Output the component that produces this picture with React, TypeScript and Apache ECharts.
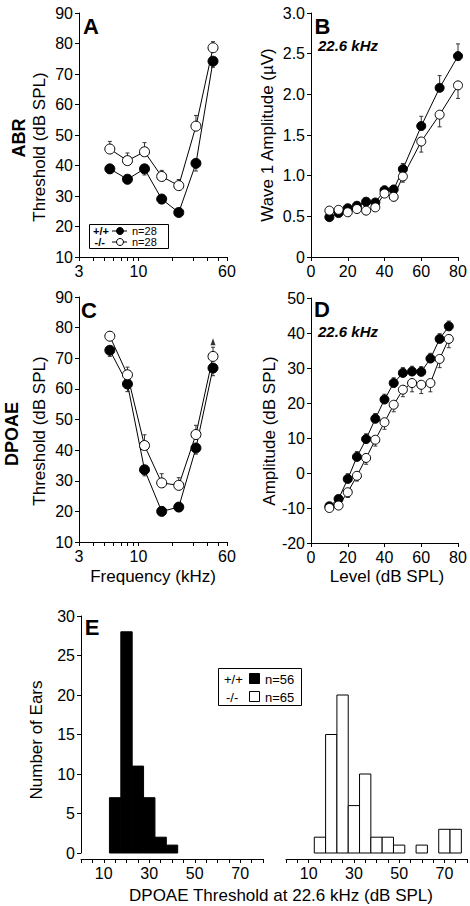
import React, { useEffect, useRef } from "react";
import * as echarts from "echarts";

// ---------- data ----------
const freqsKHz = [5.6, 8, 11.3, 16, 22.6, 32, 45.2];
const logTickValues = [3, 4, 5, 6, 7, 8, 9, 10, 20, 30, 40, 50, 60];
const logTickLabels = [3, 10, 60];

// A: ABR thresholds (dB SPL)
const abrWT = [38.9, 35.5, 38.9, 29.0, 24.6, 40.7, 74.2];
const abrWTErr = [1.5, 1.5, 2.0, 1.5, 1.0, 2.5, 2.0];
const abrKO = [45.4, 41.6, 44.5, 36.4, 33.4, 52.9, 78.6];
const abrKOErr = [2.5, 2.5, 3.0, 2.0, 2.0, 3.5, 2.0];

// B: wave 1 amplitude (uV) vs level at 22.6 kHz
const levelsB = [10, 15, 20, 25, 30, 35, 40, 45, 50, 60, 70, 80];
const waveWT = [0.49, 0.54, 0.6, 0.63, 0.68, 0.67, 0.82, 0.83, 1.08, 1.61, 2.08, 2.47];
const waveWTErr = [0.02, 0.02, 0.02, 0.03, 0.03, 0.03, 0.05, 0.05, 0.07, 0.12, 0.15, 0.15];
const waveKO = [0.57, 0.58, 0.55, 0.59, 0.57, 0.61, 0.78, 0.74, 0.99, 1.42, 1.75, 2.11];
const waveKOErr = [0.02, 0.02, 0.02, 0.03, 0.03, 0.03, 0.04, 0.05, 0.07, 0.13, 0.15, 0.16];

// C: DPOAE thresholds (dB SPL)
const dpWT = [72.6, 61.6, 33.6, 20.0, 21.4, 40.7, 66.8];
const dpWTErr = [2.0, 2.5, 2.0, 1.0, 1.0, 2.0, 2.5];
const dpKO = [77.2, 64.6, 41.5, 29.3, 28.5, 45.1, 70.6];
const dpKOErr = [1.5, 2.5, 3.5, 3.0, 2.5, 3.0, 3.0];
const arrowC = [[45.2, 75.4]];

// D: DPOAE amplitude vs level at 22.6 kHz
const levelsD = [10, 15, 20, 25, 30, 35, 40, 45, 50, 55, 60, 65, 70, 75];
const ampWT = [-9.5, -7.4, -1.7, 4.6, 9.7, 15.5, 21.0, 25.7, 28.6, 29.0, 28.9, 32.7, 38.3, 41.9];
const ampWTErr = [1.0, 1.0, 1.5, 1.5, 1.5, 1.5, 1.5, 1.5, 1.5, 1.5, 1.5, 1.5, 1.5, 1.5];
const ampKO = [-10.0, -9.3, -5.5, -0.8, 4.3, 9.5, 14.5, 19.5, 23.8, 25.7, 25.2, 25.7, 32.6, 38.3];
const ampKOErr = [1.0, 1.0, 1.5, 1.5, 1.8, 1.8, 2.0, 2.0, 2.0, 2.5, 2.5, 2.5, 2.5, 2.5];

// E: histogram of DPOAE thresholds at 22.6 kHz
const binCenters = [15, 20, 25, 30, 35, 40, 45, 50, 55, 60, 65, 70, 75];
const binWidth = 5;
const histWT = [7, 28, 11, 7, 2, 1, 0, 0, 0, 0, 0, 0, 0];
const histKO = [2, 15, 20, 6, 10, 2, 2, 1, 0, 1, 0, 3, 3];
const histTickLabels = [10, 30, 50, 70];

const legendA = { wt: "+/+", ko: "-/-", nWT: "n=28", nKO: "n=28" };
const legendE = { wt: "+/+", ko: "-/-", nWT: "n=56", nKO: "n=65" };

// ---------- styling helpers ----------
const FONT = "'Liberation Sans', Arial, Helvetica, sans-serif";
const TICK_FS = 16;
const NAME_FS = 17;

function axis(extra: any) {
  const { axisLine, axisTick, axisLabel, ...rest } = extra;
  return {
    type: "value",
    splitLine: { show: false },
    axisLine: { show: true, onZero: false, lineStyle: { color: "#000", width: 1 }, ...(axisLine || {}) },
    axisTick: { show: true, length: 4, lineStyle: { color: "#000", width: 1 }, ...(axisTick || {}) },
    axisLabel: { color: "#000", fontSize: TICK_FS, fontFamily: FONT, margin: 6, ...(axisLabel || {}) },
    ...rest,
  };
}

function logX(gridIndex: number) {
  return axis({
    gridIndex,
    min: Math.log10(3),
    max: Math.log10(60),
    axisTick: { customValues: logTickValues.map((v) => Math.log10(v)) },
    axisLabel: {
      customValues: logTickLabels.map((v) => Math.log10(v)),
      formatter: (v: number) => String(Math.round(Math.pow(10, v))),
    },
  });
}

function errRender(dir: number) {
  return (_p: any, api: any) => {
    const x = api.value(0);
    const y = api.value(1);
    const e = api.value(2);
    const p0 = api.coord([x, y]);
    const p1 = api.coord([x, y + dir * e]);
    const st = { stroke: "#333", lineWidth: 1 };
    return {
      type: "group",
      children: [
        { type: "line", shape: { x1: p0[0], y1: p0[1], x2: p1[0], y2: p1[1] }, style: st },
        { type: "line", shape: { x1: p1[0] - 2, y1: p1[1], x2: p1[0] + 2, y2: p1[1] }, style: st },
      ],
    };
  };
}

function histRender(fill: string) {
  return (_p: any, api: any) => {
    const c = api.value(0);
    const n = api.value(1);
    if (!n) return null;
    const a = api.coord([c - binWidth / 2, 0]);
    const b = api.coord([c + binWidth / 2, n]);
    return {
      type: "rect",
      shape: { x: a[0], y: b[1], width: b[0] - a[0], height: a[1] - b[1] },
      style: { fill, stroke: "#000", lineWidth: 1 },
    };
  };
}

function lineSeries(idx: number, data: number[][], filled: boolean, size: number) {
  return {
    type: "line",
    xAxisIndex: idx,
    yAxisIndex: idx,
    data,
    symbol: "circle",
    symbolSize: size,
    z: filled ? 3 : 4,
    lineStyle: { color: "#000", width: 1 },
    itemStyle: filled
      ? { color: "#000", borderColor: "#000", borderWidth: 1 }
      : { color: "#fff", borderColor: "#000", borderWidth: 1 },
    emphasis: { disabled: true },
  };
}

function errSeries(idx: number, data: number[][], dir: number) {
  return {
    type: "custom",
    xAxisIndex: idx,
    yAxisIndex: idx,
    data,
    z: 2,
    clip: false,
    renderItem: errRender(dir),
  };
}

function text(t: string, x: number, y: number, o: any = {}) {
  return {
    type: "text",
    x,
    y,
    rotation: o.rot || 0,
    z: 100,
    style: {
      text: t,
      fill: "#000",
      fontFamily: FONT,
      fontSize: o.fs || NAME_FS,
      fontWeight: o.fw || "normal",
      fontStyle: o.fst || "normal",
      align: o.align || "center",
      verticalAlign: "middle",
    },
  };
}

export default function App() {
  const ref = useRef<HTMLDivElement>(null);
  useEffect(() => {
    if (!ref.current) return;
    const chart = echarts.init(ref.current, null, { renderer: "svg" });
    const lx = (f: number) => Math.log10(f);

    const grid = (left: number, top: number, width: number, height: number) => ({
      left, top, width, height, containLabel: false, outerBoundsMode: "none",
    });

    const line = { type: "line", style: { stroke: "#000", lineWidth: 1 }, z: 101 };

    const option: any = {
      animation: false,
      backgroundColor: "#fff",
      grid: [
        grid(79, 13, 148, 244),
        grid(311, 13, 147, 244),
        grid(79, 297, 148, 245),
        grid(311, 298, 147, 245),
        grid(81, 616, 182, 237),
        grid(286, 616, 181, 237),
      ],
      xAxis: [
        logX(0),
        axis({ gridIndex: 1, min: 0, max: 80, interval: 20 }),
        logX(2),
        axis({ gridIndex: 3, min: 0, max: 80, interval: 20 }),
        axis({ gridIndex: 4, min: 0, max: 80, interval: 5, offset: 6, axisLabel: { customValues: histTickLabels } }),
        axis({ gridIndex: 5, min: 0, max: 80, interval: 5, offset: 6, axisLabel: { customValues: histTickLabels } }),
      ],
      yAxis: [
        axis({ gridIndex: 0, min: 10, max: 90, interval: 10 }),
        axis({
          gridIndex: 1, min: 0, max: 3, interval: 0.5,
          axisLabel: { formatter: (v: number) => (v === 0 ? "0" : v.toFixed(1)) },
        }),
        axis({ gridIndex: 2, min: 10, max: 90, interval: 10 }),
        axis({ gridIndex: 3, min: -20, max: 50, interval: 10 }),
        axis({ gridIndex: 4, min: 0, max: 30, interval: 5 }),
        { type: "value", gridIndex: 5, min: 0, max: 30, show: false },
      ],
      series: [
        // A
        errSeries(0, freqsKHz.map((f, i) => [lx(f), abrWT[i], abrWTErr[i]]), -1),
        errSeries(0, freqsKHz.map((f, i) => [lx(f), abrKO[i], abrKOErr[i]]), 1),
        lineSeries(0, freqsKHz.map((f, i) => [lx(f), abrWT[i]]), true, 10),
        lineSeries(0, freqsKHz.map((f, i) => [lx(f), abrKO[i]]), false, 10),
        // B
        errSeries(1, levelsB.map((l, i) => [l, waveWT[i], waveWTErr[i]]), 1),
        errSeries(1, levelsB.map((l, i) => [l, waveKO[i], waveKOErr[i]]), -1),
        lineSeries(1, levelsB.map((l, i) => [l, waveWT[i]]), true, 9),
        lineSeries(1, levelsB.map((l, i) => [l, waveKO[i]]), false, 9),
        // C
        errSeries(2, freqsKHz.map((f, i) => [lx(f), dpWT[i], dpWTErr[i]]), -1),
        errSeries(2, freqsKHz.map((f, i) => [lx(f), dpKO[i], dpKOErr[i]]), 1),
        lineSeries(2, freqsKHz.map((f, i) => [lx(f), dpWT[i]]), true, 10),
        lineSeries(2, freqsKHz.map((f, i) => [lx(f), dpKO[i]]), false, 10),
        {
          type: "scatter", xAxisIndex: 2, yAxisIndex: 2,
          data: arrowC.map((p) => [lx(p[0]), p[1]]),
          symbol: "triangle", symbolSize: [5, 7], itemStyle: { color: "#000" }, z: 5,
        },
        // D
        errSeries(3, levelsD.map((l, i) => [l, ampWT[i], ampWTErr[i]]), 1),
        errSeries(3, levelsD.map((l, i) => [l, ampKO[i], ampKOErr[i]]), -1),
        lineSeries(3, levelsD.map((l, i) => [l, ampWT[i]]), true, 9),
        lineSeries(3, levelsD.map((l, i) => [l, ampKO[i]]), false, 9),
        // E
        {
          type: "custom", xAxisIndex: 4, yAxisIndex: 4,
          data: binCenters.map((c, i) => [c, histWT[i]]),
          renderItem: histRender("#000"),
        },
        {
          type: "custom", xAxisIndex: 5, yAxisIndex: 5,
          data: binCenters.map((c, i) => [c, histKO[i]]),
          renderItem: histRender("#fff"),
        },
      ],
      graphic: [
        // row titles
        text("ABR", 19, 138, { rot: Math.PI / 2, fw: "bold", fs: 18 }),
        text("DPOAE", 12, 434, { rot: Math.PI / 2, fw: "bold", fs: 18 }),
        // axis names
        text("Threshold (dB SPL)", 39.5, 147, { rot: Math.PI / 2 }),
        text("Wave 1 Amplitude (\u00b5V)", 267.5, 135, { rot: Math.PI / 2 }),
        text("Threshold (dB SPL)", 39, 431, { rot: Math.PI / 2 }),
        text("Amplitude (dB SPL)", 269, 431, { rot: Math.PI / 2 }),
        text("Number of Ears", 36, 740, { rot: Math.PI / 2 }),
        text("Frequency (kHz)", 153, 576),
        text("Level (dB SPL)", 387, 576),
        text("DPOAE Threshold at 22.6 kHz (dB SPL)", 281, 895),
        // panel letters
        text("A", 91, 26, { fw: "bold", fs: 22 }),
        text("B", 322.5, 26, { fw: "bold", fs: 22 }),
        text("C", 89, 310, { fw: "bold", fs: 22 }),
        text("D", 322, 309.5, { fw: "bold", fs: 22 }),
        text("E", 92, 627.5, { fw: "bold", fs: 22 }),
        text("22.6 kHz", 318, 45.5, { fw: "bold", fst: "italic", fs: 15, align: "left" }),
        text("22.6 kHz", 318, 331, { fw: "bold", fst: "italic", fs: 15, align: "left" }),
        // legend A
        { type: "rect", z: 99, shape: { x: 89.5, y: 224.5, width: 79, height: 24 }, style: { fill: "#fff", stroke: "#000", lineWidth: 1 } },
        text(legendA.wt, 93, 231, { fs: 11, fw: "bold", align: "left" }),
        text(legendA.ko, 94.5, 242, { fs: 11, fw: "bold", align: "left" }),
        { ...line, shape: { x1: 112, y1: 231, x2: 127, y2: 231 } },
        { ...line, shape: { x1: 112, y1: 242, x2: 127, y2: 242 } },
        { type: "circle", z: 102, shape: { cx: 120, cy: 231, r: 3.5 }, style: { fill: "#000", stroke: "#000", lineWidth: 1 } },
        { type: "circle", z: 102, shape: { cx: 120, cy: 242, r: 3.5 }, style: { fill: "#fff", stroke: "#000", lineWidth: 1 } },
        text(legendA.nWT, 132, 231, { fs: 11, align: "left" }),
        text(legendA.nKO, 132, 242, { fs: 11, align: "left" }),
        // legend E
        { type: "rect", z: 99, shape: { x: 218.5, y: 668.5, width: 83, height: 37 }, style: { fill: "#fff", stroke: "#000", lineWidth: 1 } },
        text(legendE.wt, 224, 679, { fs: 13, align: "left" }),
        text(legendE.ko, 226, 697, { fs: 13, align: "left" }),
        { type: "rect", z: 102, shape: { x: 249.5, y: 673.5, width: 10, height: 10 }, style: { fill: "#000", stroke: "#000", lineWidth: 1 } },
        { type: "rect", z: 102, shape: { x: 249.5, y: 691.5, width: 10, height: 10 }, style: { fill: "#fff", stroke: "#000", lineWidth: 1 } },
        text(legendE.nWT, 265, 679, { fs: 13, align: "left" }),
        text(legendE.nKO, 265, 697, { fs: 13, align: "left" }),
      ],
    };
    chart.setOption(option);
    return () => chart.dispose();
  }, []);
  return (
    <div
      ref={ref}
      style={{ position: "absolute", left: 0, top: 0, width: 470, height: 906, background: "#fff" }}
    />
  );
}
